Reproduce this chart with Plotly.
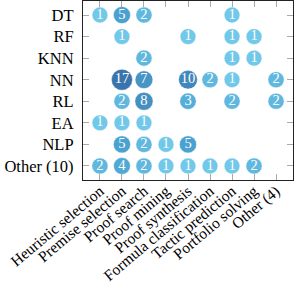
import numpy as np
import plotly.graph_objects as go

methods = ["DT", "RF", "KNN", "NN", "RL", "EA", "NLP", "Other (10)"]
tasks = ["Heuristic selection", "Premise selection", "Proof search", "Proof mining",
         "Proof synthesis", "Formula classification", "Tactic prediction",
         "Portfolio solving", "Other (4)"]

# counts per (method, task); None = empty
DT    = [1, 5, 2, None, None, None, 1, None, None]
RF    = [None, 1, None, None, 1, None, 1, 1, None]
KNN   = [None, None, 2, None, None, None, 1, 1, None]
NN    = [None, 17, 7, None, 10, 2, 1, None, 2]
RL    = [None, 2, 8, None, 3, None, 2, None, 2]
EA    = [1, 1, 1, None, None, None, None, None, None]
NLP   = [None, 5, 2, 1, 5, None, None, None, None]
OTHER = [2, 4, 2, 1, 1, 1, 1, 2, None]

rows = [DT, RF, KNN, NN, RL, EA, NLP, OTHER]

xs, ys, vs = [], [], []
for ri, row in enumerate(rows):
    for ci, v in enumerate(row):
        if v is not None:
            xs.append(ci)
            ys.append(ri)
            vs.append(v)
vs = np.array(vs, dtype=float)

fig = go.Figure()
fig.add_trace(go.Scatter(
    x=xs, y=ys, mode="markers+text",
    text=[str(int(v)) for v in vs],
    textposition="middle center",
    textfont=dict(family="Liberation Serif", size=14.5, color="white"),
    marker=dict(
        size=15.5 + 0.33 * vs,
        color=np.log(vs),
        cmin=0, cmax=np.log(17),
        colorscale=[[0, "#72c8e8"], [0.5, "#4ea8d4"], [1, "#3a74ac"]],
        line=dict(color="rgba(255,255,255,0.6)", width=0.8),
        opacity=1,
    ),
    hoverinfo="skip",
    showlegend=False,
))

axis_common = dict(
    showgrid=False, zeroline=False, automargin=False,
    showline=True, linecolor="#222", linewidth=1.2, mirror="ticks",
    ticks="inside", ticklen=6, tickcolor="#aaaaaa", tickwidth=1,
)

fig.update_layout(
    width=294, height=283,
    margin=dict(l=83, r=1, t=1, b=103),
    paper_bgcolor="white", plot_bgcolor="white",
    xaxis=dict(range=[-0.77, 8.77], tickvals=list(range(len(tasks))), ticktext=tasks,
               tickangle=-40, ticklabeloverflow="allow", ticklabelstandoff=-5,
               tickfont=dict(family="Liberation Serif", size=15.5, color="black"),
               **axis_common),
    yaxis=dict(range=[7.65, -0.65], tickvals=list(range(len(methods))), ticktext=methods,
               tickfont=dict(family="Liberation Serif", size=16.5, color="black"),
               ticklabelstandoff=5,
               **axis_common),
)

fig.write_html("out.html", config={"displayModeBar": False},
               post_script="document.body.style.margin='0';")
